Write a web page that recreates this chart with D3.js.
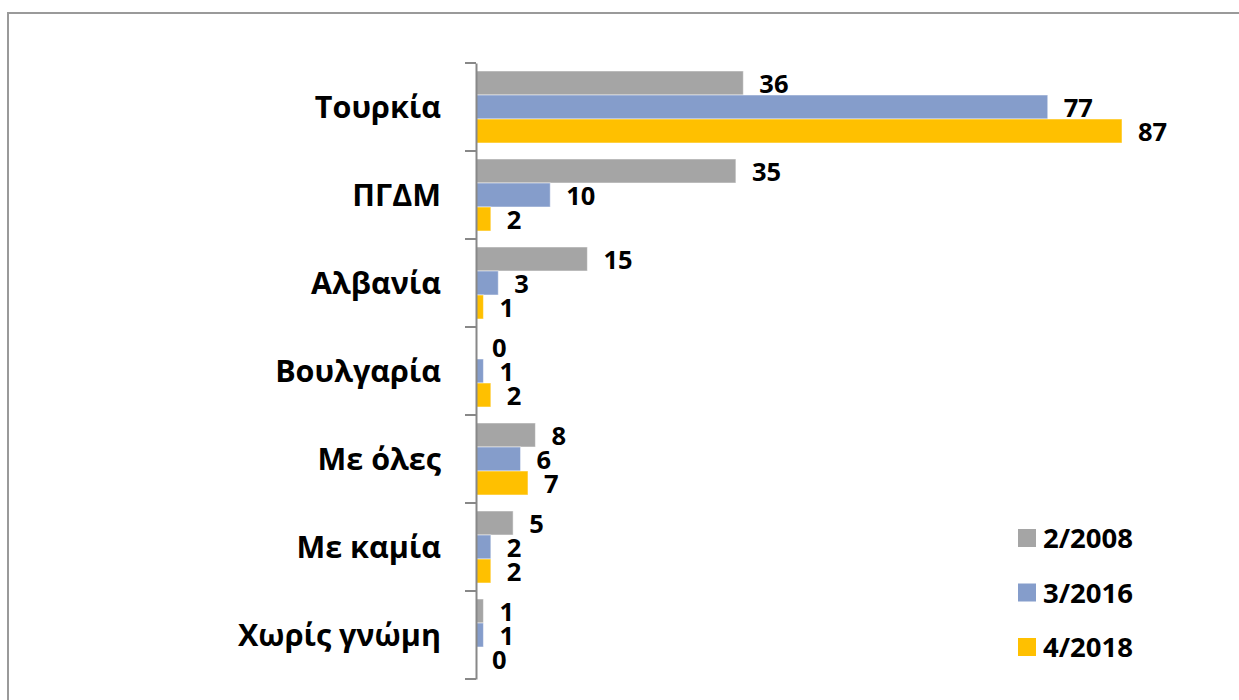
<!DOCTYPE html>
<html>
<head>
<meta charset="utf-8">
<script src="https://cdn.jsdelivr.net/npm/d3@7"></script>
<style>
  body { margin: 0; background: #fff; }
  svg { display: block; font-family: "Open Sans", sans-serif; }
</style>
</head>
<body>
<svg id="chart" width="1239" height="700"></svg>
<script>
// chart data
var categories = ['Τουρκία', 'ΠΓΔΜ', 'Αλβανία', 'Βουλγαρία', 'Με όλες', 'Με καμία', 'Χωρίς γνώμη'];
var seriesNames = ['2/2008', '3/2016', '4/2018'];
var values2008 = [36, 35, 15, 0, 8, 5, 1];
var values2016 = [77, 10, 3, 1, 6, 2, 1];
var values2018 = [87, 2, 1, 2, 7, 2, 0];
var colors = ['#a5a5a5', '#859dcb', '#ffc000'];

var allSeries = [values2008, values2016, values2018];

var svg = d3.select('#chart');
var W = 1239, H = 700;

// outer frame (runs off the right and bottom edges)
svg.append('rect')
    .attr('x', 8).attr('y', 13)
    .attr('width', W + 10).attr('height', H + 10)
    .attr('fill', 'none')
    .attr('stroke', '#9a9a9a')
    .attr('stroke-width', 2);

var axisX = 476;

var y = d3.scaleBand()
    .domain(categories)
    .range([63, 679])
    .paddingInner(0)
    .paddingOuter(0);

var ySub = d3.scaleBand()
    .domain(d3.range(seriesNames.length))
    .range([8, y.bandwidth() - 8]);

var x = d3.scaleLinear()
    .domain([0, 87])
    .range([axisX, 1122]);

// bars
var groups = svg.append('g').selectAll('g')
    .data(categories)
    .join('g')
        .attr('transform', function(d) { return 'translate(0,' + y(d) + ')'; });

groups.each(function(cat, ci) {
    var g = d3.select(this);
    allSeries.forEach(function(vals, si) {
        var v = vals[ci];
        if (v > 0) {
            g.append('rect')
                .attr('x', x(0))
                .attr('y', ySub(si))
                .attr('width', x(v) - x(0))
                .attr('height', ySub.bandwidth())
                .attr('fill', colors[si])
                .attr('stroke', '#ffffff')
                .attr('stroke-opacity', 0.5)
                .attr('stroke-width', 1);
        }
        // value label
        g.append('text')
            .attr('x', x(v) + 16)
            .attr('y', ySub(si) + ySub.bandwidth() / 2 + 10)
            .attr('font-size', 25.5)
            .attr('font-weight', 'bold')
            .attr('fill', '#000')
            .text(v);
    });
});

// category axis
var axis = d3.axisLeft(y)
    .tickValues([])
    .tickSizeOuter(0);

var axisG = svg.append('g')
    .attr('transform', 'translate(' + axisX + ',0)')
    .call(axis);
axisG.select('.domain').attr('stroke', '#888').attr('stroke-width', 2);

// tick marks on band boundaries
var bounds = categories.map(function(c) { return y(c); }).concat([y.range()[1]]);
axisG.selectAll('line.bound')
    .data(bounds)
    .join('line')
        .attr('class', 'bound')
        .attr('x1', -11).attr('x2', 0)
        .attr('y1', function(d) { return d; })
        .attr('y2', function(d) { return d; })
        .attr('stroke', '#888')
        .attr('stroke-width', 2);

// category labels
svg.append('g').selectAll('text')
    .data(categories)
    .join('text')
        .attr('x', 441)
        .attr('y', function(d) { return y(d) + y.bandwidth() / 2 + 11; })
        .attr('text-anchor', 'end')
        .attr('font-size', 30.5)
        .attr('font-weight', 'bold')
        .attr('fill', '#000')
        .text(function(d) { return d; });

// legend
var legend = svg.append('g').attr('transform', 'translate(1018,529)');
var items = legend.selectAll('g')
    .data(seriesNames)
    .join('g')
        .attr('transform', function(d, i) { return 'translate(0,' + (i * 54.5) + ')'; });
items.append('rect')
    .attr('width', 18).attr('height', 18)
    .attr('fill', function(d, i) { return colors[i]; });
items.append('text')
    .attr('x', 25)
    .attr('y', 19)
    .attr('font-size', 27.5)
    .attr('font-weight', 'bold')
    .attr('fill', '#000')
    .text(function(d) { return d; });
</script>
</body>
</html>
